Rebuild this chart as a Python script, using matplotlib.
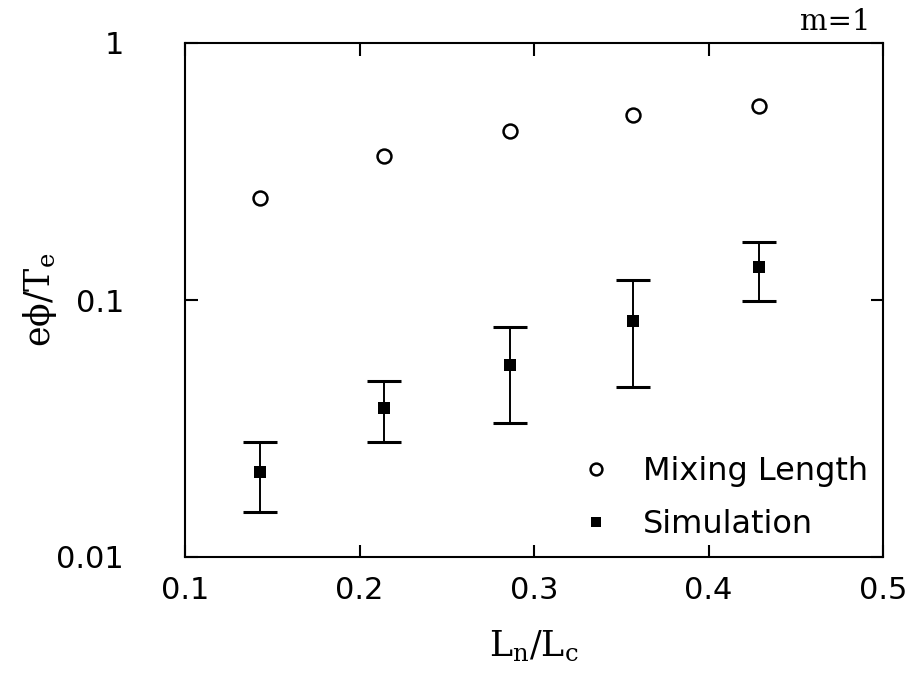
import numpy as np
import matplotlib
matplotlib.use("Agg")
import matplotlib.pyplot as plt

# L_n / L_c values (1/7 ... 3/7)
ratio = [0.143, 0.214, 0.286, 0.357, 0.429]

# mixing length estimate
mixing = [0.249, 0.363, 0.455, 0.525, 0.569]

# simulation with error bar limits
sim = [0.0214, 0.038, 0.0558, 0.0828, 0.134]
sim_hi = [0.028, 0.0484, 0.0785, 0.1197, 0.168]
sim_lo = [0.015, 0.028, 0.0332, 0.0458, 0.099]

xticks = [0.1, 0.2, 0.3, 0.4, 0.5]
yticks = [0.01, 0.1, 1]
yticklabels = ["0.01", "0.1", "1"]

plt.rcParams['mathtext.fontset'] = 'dejavuserif'
plt.rcParams['mathtext.default'] = 'rm'

fig = plt.figure(figsize=(9.14, 6.8), dpi=100)
ax = fig.add_axes([185/914, 1-557/680, 698/914, 514/680])

sim = np.array(sim)
yerr = [sim - np.array(sim_lo), np.array(sim_hi) - sim]

ax.errorbar(ratio, sim, yerr=yerr, fmt='none', ecolor='black',
            elinewidth=1.4, capsize=12.5, capthick=2.2)
ax.plot(ratio, mixing, linestyle='none', marker='o', ms=10, mfc='white',
        mec='black', mew=1.8, label='Mixing Length')
ax.plot(ratio, sim, linestyle='none', marker='s', ms=9, mfc='black',
        mec='black', mew=0, label='Simulation')

ax.set_yscale('log')
ax.set_xlim(0.1, 0.5)
ax.set_ylim(0.01, 1)
ax.set_xticks(xticks)
ax.set_xticklabels([f"{t:.1f}" for t in xticks])
ax.set_yticks(yticks)
ax.set_yticklabels(yticklabels)
ax.yaxis.set_minor_locator(matplotlib.ticker.NullLocator())

ax.tick_params(which='major', direction='in', length=9, width=1.5,
               top=True, right=True, labelsize=22)
ax.tick_params(axis='y', pad=44)
ax.tick_params(axis='x', pad=14)
for s in ax.spines.values():
    s.set_linewidth(1.5)

ax.set_xlabel(r'L$_\mathrm{n}$/L$_\mathrm{c}$', fontsize=25, family='DejaVu Serif')
ax.set_ylabel(r'e$\phi$/T$_\mathrm{e}$', fontsize=25, family='DejaVu Serif')
ax.xaxis.set_label_coords(0.5, -0.14)
ax.yaxis.set_label_coords(-0.18, 0.5)

fig.text(0.952, 0.956, 'm=1', fontsize=21, family='DejaVu Serif',
         ha='right', va='baseline')

ax.legend(loc='lower right', bbox_to_anchor=(0.997, 0.008), frameon=False,
          fontsize=23, markerscale=0.85, handlelength=1.0, handletextpad=0.96,
          labelspacing=0.7, borderaxespad=0.0)

fig.savefig('out.png', dpi=100)
